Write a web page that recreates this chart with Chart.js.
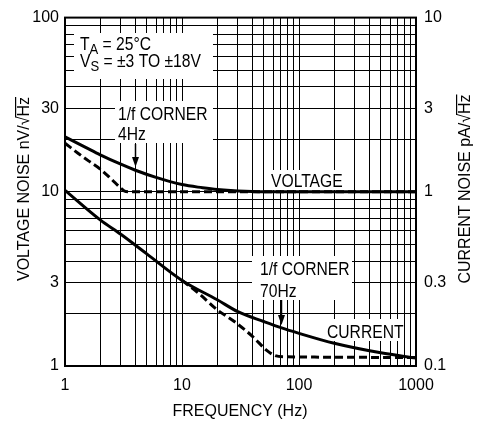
<!DOCTYPE html>
<html>
<head>
<meta charset="utf-8">
<title>Voltage and current noise vs frequency</title>
<script src="https://cdn.jsdelivr.net/npm/chart.js@4.4.0/dist/chart.umd.min.js"></script>
<style>
  html, body { margin: 0; padding: 0; background: #fff; }
  #wrap { width: 478px; height: 421px; position: relative; }
</style>
</head>
<body>
<div id="wrap"><canvas id="noiseChart"></canvas></div>
<script>
const FONT = "'Liberation Sans', Arial, sans-serif";

// labelled ticks
const xLabels = [1, 10, 100, 1000];
const yLeftLabels = [1, 3, 10, 30, 100];
const yRightLabels = [0.1, 0.3, 1, 3, 10];

// voltage noise, nV/rtHz (solid = total, dashed = white-noise asymptote)
const voltFreq = [1, 1.5, 2, 3, 4, 6, 10, 15, 20, 30, 50, 100, 1000];
const voltTotal = [20.7, 18.0, 16.3, 14.4, 13.3, 12.1, 11.0, 10.55, 10.3, 10.1, 10.0, 10.0, 10.0];
const voltFlatFreq = [1, 1.3, 1.6, 2, 2.5, 3, 3.3, 4, 1000];
const voltFlat = [19.0, 16.6, 15.0, 13.5, 11.8, 10.5, 10.05, 10.0, 10.0];

// current noise, pA/rtHz
const currFreq = [1, 2, 3, 5, 10, 20, 30, 50, 70, 100, 200, 500, 1000];
const currTotal = [1.02, 0.69, 0.57, 0.44, 0.31, 0.24, 0.205, 0.18, 0.166, 0.154, 0.135, 0.119, 0.111];
const currFlatFreq = [10, 14, 20, 28, 40, 53, 62, 75, 1000];
const currFlat = [0.31, 0.26, 0.21, 0.18, 0.148, 0.123, 0.115, 0.113, 0.112];

// 1..9 per decade, for the grid
function decadeTicks(min, max) {
    const out = [];
    for (let d = min; d < max; d *= 10) {
        for (let m = 1; m < 10; m++) out.push(parseFloat((m * d).toPrecision(3)));
    }
    out.push(max);
    return out.map(v => ({ value: v }));
}

function series(xs, ys, axis, dashed) {
    return {
        data: xs.map((x, i) => ({ x: x, y: ys[i] })),
        yAxisID: axis,
        borderColor: '#000',
        borderWidth: 3,
        borderDash: dashed ? [8, 4] : [],
        pointRadius: 0,
        cubicInterpolationMode: 'monotone',
        fill: false
    };
}

// the reference uses a condensed face, so text is squeezed horizontally
const SQ = 0.87;
function squeezed(ctx, x, y, sx, fn) {
    ctx.save();
    ctx.translate(x, y);
    ctx.scale(sx, 1);
    fn();
    ctx.restore();
}

// "X" + subscript + rest, e.g. T_A = 25°C
function subText(ctx, main, sub, rest, x, y) {
    squeezed(ctx, x, y, SQ, () => {
        ctx.font = '18px ' + FONT;
        ctx.fillText(main, 0, 0);
        let w = ctx.measureText(main).width;
        ctx.font = '15px ' + FONT;
        ctx.fillText(sub, w, 4);
        w += ctx.measureText(sub).width;
        ctx.font = '18px ' + FONT;
        ctx.fillText(rest, w, 0);
    });
}

function rootTitle(ctx, pre, x, y) {
    const root = '\u221AHz';
    ctx.save();
    ctx.translate(x, y);
    ctx.rotate(-Math.PI / 2);
    ctx.scale(0.94, 1);
    ctx.font = '17px ' + FONT;
    const tw = ctx.measureText(pre + root).width;
    const x0 = -tw / 2;
    ctx.fillText(pre + root, x0, 0);
    const w1 = ctx.measureText(pre + '\u221A').width;
    ctx.fillRect(x0 + w1 - 1, -14, tw - w1 + 1, 1.2);
    ctx.restore();
}

const annotate = {
    id: 'annotate',
    beforeDatasetsDraw(chart) {
        const ctx = chart.ctx;
        const xs = chart.scales.x;
        ctx.save();
        // white label boxes over the grid
        ctx.fillStyle = '#fff';
        ctx.fillRect(74, 33, 139, 46);
        ctx.fillRect(115, 101, 98, 42);
        ctx.fillRect(267, 170, 78, 20);
        ctx.fillRect(252, 256, 100, 44);
        ctx.fillRect(324, 319, 80, 22);

        ctx.fillStyle = '#000';
        ctx.strokeStyle = '#000';
        ctx.textBaseline = 'alphabetic';
        ctx.textAlign = 'left';
        subText(ctx, 'T', 'A', ' = 25\u00B0C', 80, 49.5);
        subText(ctx, 'V', 'S', ' = \u00B13 TO \u00B118V', 80, 67);

        ctx.font = '18px ' + FONT;
        const lbl = (s, x, y) => squeezed(ctx, x, y, SQ, () => ctx.fillText(s, 0, 0));
        lbl('1/f CORNER', 118, 120);
        lbl('4Hz', 118, 140);
        lbl('VOLTAGE', 271, 187);
        lbl('1/f CORNER', 260, 275);
        lbl('70Hz', 260, 297);
        lbl('CURRENT', 327, 338);

        // arrows to the corner frequencies
        const arrow = (f, y0, y1) => {
            const x = Math.round(xs.getPixelForValue(f)) + 0.5;
            ctx.lineWidth = 1.5;
            ctx.beginPath();
            ctx.moveTo(x, y0);
            ctx.lineTo(x, y1 - 8);
            ctx.stroke();
            ctx.beginPath();
            ctx.moveTo(x - 3.5, y1 - 10);
            ctx.lineTo(x + 3.5, y1 - 10);
            ctx.lineTo(x, y1);
            ctx.closePath();
            ctx.fill();
        };
        arrow(4, 144, 167);
        arrow(70, 300, 325);

        // axis titles
        rootTitle(ctx, 'VOLTAGE NOISE nV/', 29, 189);
        rootTitle(ctx, 'CURRENT NOISE pA/', 470, 189);
        ctx.font = '17px ' + FONT;
        ctx.textAlign = 'center';
        squeezed(ctx, 240, 416, 0.94, () => ctx.fillText('FREQUENCY (Hz)', 0, 0));
        ctx.restore();
    },
    afterDatasetsDraw(chart) {
        const a = chart.chartArea, ctx = chart.ctx;
        ctx.save();
        ctx.strokeStyle = '#000';
        ctx.lineWidth = 2;
        ctx.strokeRect(a.left, a.top, a.right - a.left, a.bottom - a.top);
        ctx.restore();
    }
};

const tickFont = { family: FONT, size: 16 };

new Chart(document.getElementById('noiseChart').getContext('2d'), {
    type: 'line',
    data: {
        datasets: [
            series(voltFreq, voltTotal, 'y', false),
            series(voltFlatFreq, voltFlat, 'y', true),
            series(currFreq, currTotal, 'y2', false),
            series(currFlatFreq, currFlat, 'y2', true)
        ]
    },
    options: {
        responsive: true,
        maintainAspectRatio: false,
        animation: false,
        events: [],
        layout: { padding: { top: 15, left: 0, right: 0, bottom: 0 } },
        plugins: { legend: { display: false }, tooltip: { enabled: false } },
        scales: {
            x: {
                type: 'logarithmic',
                min: 1, max: 1000,
                afterBuildTicks: s => { s.ticks = decadeTicks(1, 1000); },
                afterFit: s => { s.height = 55; },
                grid: { color: '#000', lineWidth: 1, drawTicks: false },
                border: { display: false },
                ticks: {
                    autoSkip: false, maxRotation: 0, padding: 10,
                    color: '#000', font: tickFont,
                    callback: v => xLabels.includes(v) ? String(v) : ''
                }
            },
            y: {
                type: 'logarithmic',
                position: 'left',
                min: 1, max: 100,
                afterBuildTicks: s => { s.ticks = decadeTicks(1, 100); },
                afterFit: s => { s.width = 65; },
                grid: { color: '#000', lineWidth: 1, drawTicks: false },
                border: { display: false },
                ticks: {
                    autoSkip: false, padding: 6,
                    color: '#000', font: tickFont,
                    callback: v => yLeftLabels.includes(v) ? String(v) : ''
                }
            },
            y2: {
                type: 'logarithmic',
                position: 'right',
                min: 0.1, max: 10,
                afterBuildTicks: s => { s.ticks = decadeTicks(0.1, 10); },
                afterFit: s => { s.width = 62; },
                grid: { display: false, drawTicks: false },
                border: { display: false },
                ticks: {
                    autoSkip: false, padding: 8,
                    color: '#000', font: tickFont,
                    callback: v => yRightLabels.includes(v) ? String(v) : ''
                }
            }
        }
    },
    plugins: [annotate]
});
</script>
</body>
</html>
